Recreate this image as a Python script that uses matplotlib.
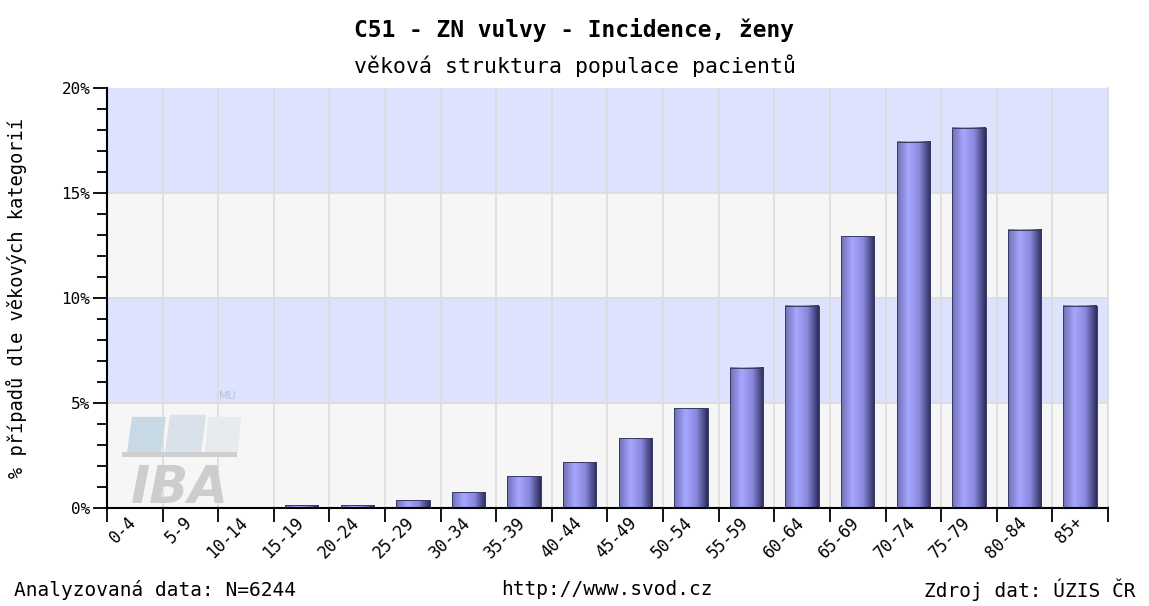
import numpy as np
import matplotlib.pyplot as plt
from matplotlib.colors import LinearSegmentedColormap
from matplotlib.patches import Polygon, Rectangle

# data
age_groups = ["0-4", "5-9", "10-14", "15-19", "20-24", "25-29", "30-34", "35-39",
              "40-44", "45-49", "50-54", "55-59", "60-64", "65-69", "70-74",
              "75-79", "80-84", "85+"]
share_pct = [0.0, 0.0, 0.0, 0.14, 0.14, 0.38, 0.76, 1.52, 2.19, 3.33, 4.76,
             6.67, 9.62, 12.95, 17.43, 18.1, 13.24, 9.62]
y_ticks = [0, 5, 10, 15, 20]

title = "C51 - ZN vulvy - Incidence, ženy"
subtitle = "věková struktura populace pacientů"
ylabel = "% případů dle věkových kategorií"
foot_left = "Analyzovaná data: N=6244"
foot_mid = "http://www.svod.cz"
foot_right = "Zdroj dat: ÚZIS ČR"

mono = ["DejaVu Sans Mono"]

fig = plt.figure(figsize=(11.49, 6.06), dpi=100)
fig.patch.set_facecolor("white")
ax = fig.add_axes([0.0931, 0.1617, 0.8712, 0.6931])

n = len(age_groups)
x = np.arange(n) + 0.5
ax.set_xlim(0, n)
ax.set_ylim(0, 20)

# alternating background bands
for i in range(len(y_ticks) - 1):
    col = "#f6f6f6" if i % 2 == 0 else "#dde3ff"
    ax.axhspan(y_ticks[i], y_ticks[i + 1], color=col, zorder=0, lw=0)
for yv in y_ticks[1:-1]:
    ax.axhline(yv, color="#dcdcdc", lw=1.2, zorder=1)
for xv in range(1, n + 1):
    ax.axvline(xv, color="#dcdcdc", lw=1.2, zorder=1)

# IBA watermark (inside the lowest band)
wm = dict(transform=ax.transAxes, zorder=1.5, lw=0)
ax.add_patch(Polygon([[0.020, 0.133], [0.054, 0.133], [0.059, 0.217], [0.025, 0.217]],
                     color="#c8d9e6", **wm))
ax.add_patch(Polygon([[0.058, 0.133], [0.094, 0.133], [0.099, 0.222], [0.063, 0.222]],
                     color="#d9e1eb", **wm))
ax.add_patch(Polygon([[0.098, 0.133], [0.131, 0.133], [0.134, 0.217], [0.101, 0.217]],
                     color="#e7ebf0", **wm))
ax.add_patch(Rectangle((0.015, 0.121), 0.115, 0.012, color="#cfcfcf", **wm))
ax.text(0.073, 0.012, "IBA", transform=ax.transAxes, ha="center", va="baseline",
        fontsize=37, fontweight="bold", style="italic", color="#cdcdcd",
        family="DejaVu Sans", zorder=1.5)
ax.text(0.121, 0.267, "MU", transform=ax.transAxes, ha="center", va="center",
        fontsize=8, color="#b4c0da", family="DejaVu Sans", zorder=1.5)

# bars with horizontal shading
cmap = LinearSegmentedColormap.from_list(
    "barshade", ["#7070b4", "#a6a6ff", "#8888dc", "#2c2c5c"], N=256)
grad = np.linspace(0, 1, 64).reshape(1, -1)
bars = ax.bar(x, share_pct, width=0.6, color="none", edgecolor="none", zorder=2)
for b in bars:
    h = b.get_height()
    if h <= 0:
        continue
    x0 = b.get_x()
    w = b.get_width()
    ax.imshow(grad, cmap=cmap, aspect="auto", extent=(x0, x0 + w, 0, h),
              zorder=2, interpolation="bilinear")
    ax.add_patch(Rectangle((x0, 0), w, h, fill=False, edgecolor="#3a3a66",
                           lw=0.7, zorder=3))
ax.set_xlim(0, n)
ax.set_ylim(0, 20)

# axes styling
ax.spines["top"].set_visible(False)
ax.spines["right"].set_color("#dcdcdc")
ax.spines["right"].set_linewidth(1.2)
ax.spines["left"].set_linewidth(1.5)
ax.spines["bottom"].set_linewidth(1.5)

ax.set_yticks(y_ticks)
ax.set_yticklabels([f"{v}%" for v in y_ticks], family=mono, fontsize=11.5)
ax.set_yticks(np.arange(0, 21, 1), minor=True)
ax.tick_params(axis="y", which="major", length=10, width=1.3, pad=2)
ax.tick_params(axis="y", which="minor", length=7, width=1.3)

ax.set_xticks(np.arange(0, n + 1))
ax.set_xticklabels([])
ax.tick_params(axis="x", which="major", length=10, width=1.3)
for xi, lab in zip(x, age_groups):
    ax.text(xi - 0.13, -0.25, lab, rotation=45, ha="right", va="top",
            rotation_mode="anchor", family=mono, fontsize=12)

ax.set_ylabel(ylabel, family=mono, fontsize=13.5)
ax.yaxis.set_label_coords(-0.08, 0.5)

fig.text(0.5, 0.95, title, ha="center", va="center", family=mono,
         fontsize=16.5, fontweight="bold")
fig.text(0.5, 0.891, subtitle, ha="center", va="center", family=mono, fontsize=15.5)
fig.text(0.012, 0.027, foot_left, ha="left", va="center", family=mono, fontsize=14)
fig.text(0.528, 0.027, foot_mid, ha="center", va="center", family=mono, fontsize=14)
fig.text(0.988, 0.027, foot_right, ha="right", va="center", family=mono, fontsize=14)

fig.savefig("out.png", dpi=100)
